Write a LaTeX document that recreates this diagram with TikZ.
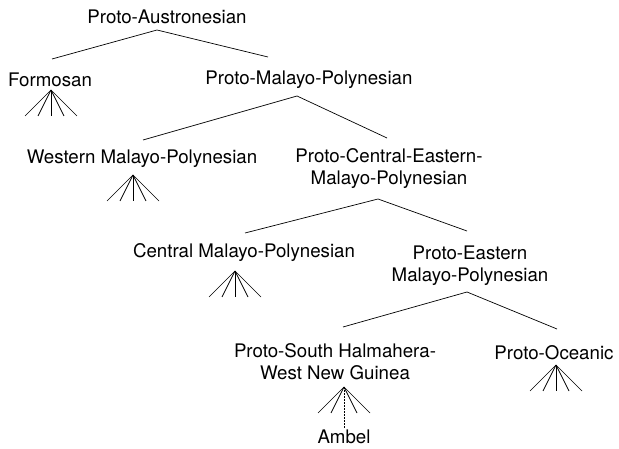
\documentclass[tikz,border=0pt]{standalone}
\usepackage{fontspec}
\setmainfont{TeX Gyre Heros}
\usepackage{tikz}

\begin{document}
\begin{tikzpicture}[x=1pt,y=-1pt, line width=.7pt,
  lang/.style={align=center, inner sep=0pt,
    font=\fontsize{18.7}{22}\selectfont}]
 \useasboundingbox (0,0) rectangle (619,449);
 % language names
 \node[lang] (pa) at (167,17) {Proto-Austronesian};
 \node[lang] (fo) at (50,80) {Formosan};
 \node[lang] (pmp) at (309,80) {Proto-Malayo-Polynesian};
 \node[lang] (wmp) at (142,159) {Western Malayo-Polynesian};
 \node[lang] (pcemp) at (389,169) {Proto-Central-Eastern-\\Malayo-Polynesian};
 \node[lang] (cmp) at (244,253) {Central Malayo-Polynesian};
 \node[lang] (pemp) at (470,266) {Proto-Eastern\\Malayo-Polynesian};
 \node[lang] (psh) at (335,362) {Proto-South Halmahera-\\West New Guinea};
 \node[lang] (poc) at (554,353) {Proto-Oceanic};
 \node[lang] (amb) at (344,437) {Ambel};
 % branch points and tops
 \coordinate (pa-b) at (157,30);
 \coordinate (fo-t) at (52,59);
 \coordinate (pmp-t) at (268,57);
 \coordinate (pmp-b) at (297,96);
 \coordinate (wmp-t) at (143,140);
 \coordinate (pcemp-t) at (387,138);
 \coordinate (pcemp-b) at (378,199);
 \coordinate (cmp-t) at (245,233);
 \coordinate (pemp-t) at (467,231);
 \coordinate (pemp-b) at (467,292);
 \coordinate (psh-t) at (343,327);
 \coordinate (poc-t) at (557,329);
 % fan apexes
 \coordinate (fo-f) at (51,90);
 \coordinate (wmp-f) at (133,175);
 \coordinate (cmp-f) at (235,271);
 \coordinate (psh-f) at (344,387);
 \coordinate (poc-f) at (556,365);
 % the tree
 \draw (fo-t) -- (pa-b) -- (pmp-t);
 \draw (wmp-t) -- (pmp-b) -- (pcemp-t);
 \draw (cmp-t) -- (pcemp-b) -- (pemp-t);
 \draw (psh-t) -- (pemp-b) -- (poc-t);
 \foreach \f in {fo-f,wmp-f,cmp-f,poc-f}
   \foreach \d in {-26,-13,0,13,26}
     \draw (\f) -- ++(\d,26);
 \foreach \d in {-26,-13,13,26}
   \draw (psh-f) -- ++(\d,26);
 \draw[dash pattern=on 1.5pt off 1.5pt] (psh-f) -- ([yshift=2pt]amb.north);
\end{tikzpicture}
\end{document}
